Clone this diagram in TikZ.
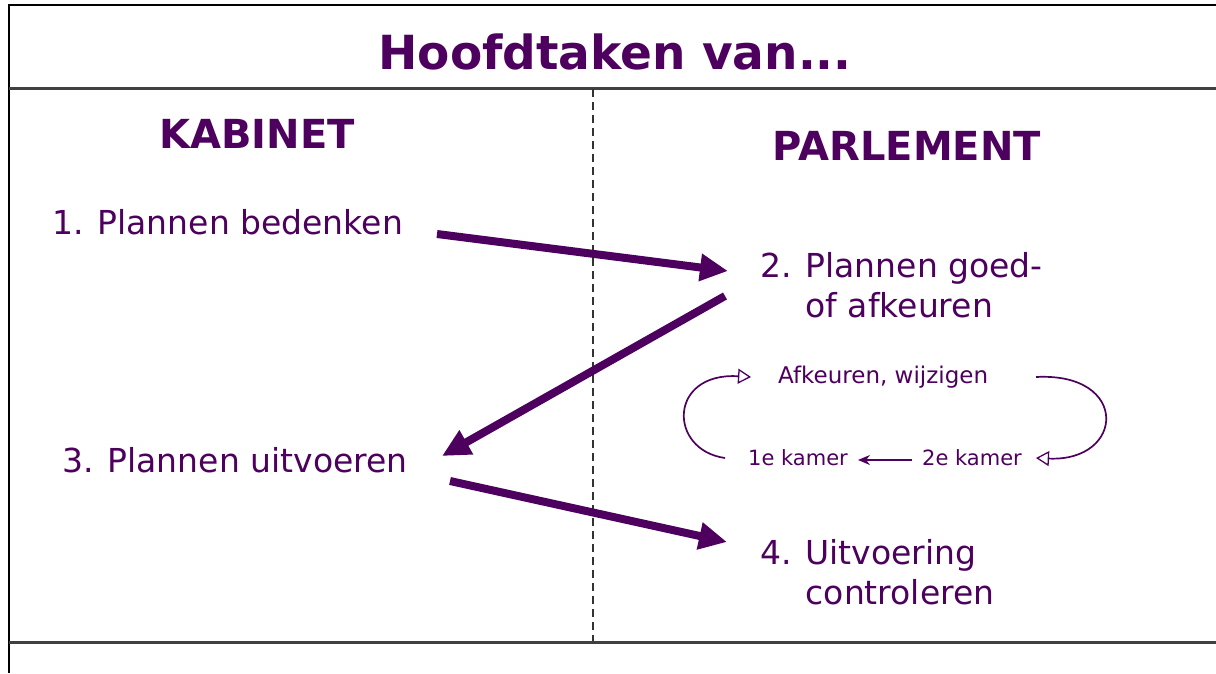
\documentclass[tikz,border=0pt]{standalone}
\usepackage{fontspec}
\setmainfont{DejaVu Sans}
\usetikzlibrary{arrows.meta}
\definecolor{paars}{RGB}{78,0,94}
\tikzset{
  big/.style={font=\fontsize{33}{40}\selectfont, text=paars, anchor=west, inner sep=0pt, align=left},
  head/.style={font=\bfseries\fontsize{40}{48}\selectfont, text=paars, inner sep=0pt},
  small/.style={font=\fontsize{23}{28}\selectfont, text=paars, anchor=west, inner sep=0pt},
  tiny/.style={font=\fontsize{21}{26}\selectfont, text=paars, anchor=west, inner sep=0pt},
  bigarrow/.style={draw=paars, line width=8pt, -{Triangle[length=28pt,width=26pt]}},
  openarrow/.style={draw=paars, line width=1.7pt, -{Triangle[open,length=13pt,width=15pt,line width=1.3pt]}},
  smallarrow/.style={draw=paars, line width=1.5pt, -{Stealth[length=12pt,width=10pt]}},
  frame/.style={draw=black, line width=2pt},
  sep/.style={draw=black!75, line width=3pt},
}
\begin{document}
\begin{tikzpicture}[x=1pt,y=-1pt]
\useasboundingbox (0,0) rectangle (1216,673);
\fill[white] (0,0) rectangle (1216,673);
% frame
\coordinate (tl) at (9,5);
\coordinate (tr) at (1216,5);
\coordinate (bl) at (9,673);
\draw[frame] (bl) -- (tl) -- (tr);
\coordinate (s1l) at (9,88);
\coordinate (s1r) at (1216,88);
\coordinate (s2l) at (9,642);
\coordinate (s2r) at (1216,642);
\draw[sep] (s1l) -- (s1r);
\draw[sep] (s2l) -- (s2r);
\coordinate (dt) at (593,89);
\coordinate (db) at (593,641);
\draw[draw=black!80, line width=1.8pt, dash pattern=on 8pt off 5pt] (dt) -- (db);
% title and headers
\node[font=\bfseries\fontsize{47}{54}\selectfont, text=paars, inner sep=0pt] (title) at (615,52) {Hoofdtaken van...};
\node[head] (kab) at (257,134) {KABINET};
\node[head] (par) at (907,146) {PARLEMENT};
% main texts
\node[big] (t1) at (52,222) {1. Plannen bedenken};
\node[big] (t2) at (760,285) {2. Plannen goed-\\\phantom{2. }of afkeuren};
\node[big] (t3) at (62,460) {3. Plannen uitvoeren};
\node[big] (t4) at (760,572) {4. Uitvoering\\\phantom{4. }controleren};
% small texts
\node[small] (afk) at (778,377) {Afkeuren, wijzigen};
\node[tiny] (k1) at (748,458) {1e kamer};
\node[tiny] (k2) at (922,458) {2e kamer};
% big arrows
\coordinate (a1s) at (437,234);
\coordinate (a1e) at (728,271);
\draw[bigarrow] (a1s) -- (a1e);
\coordinate (a2s) at (725,296);
\coordinate (a2e) at (442,456);
\draw[bigarrow] (a2s) -- (a2e);
\coordinate (a3s) at (450,481);
\coordinate (a3e) at (727,542);
\draw[bigarrow] (a3s) -- (a3e);
% small loop arrows
\coordinate (l1s) at (725,458);
\coordinate (l1e) at (751,377);
\draw[openarrow] (l1s) .. controls (668,450) and (668,372) .. (l1e);
\coordinate (l2s) at (1036,377);
\coordinate (l2e) at (1036,458);
\draw[openarrow] (l2s) .. controls (1130,372) and (1125,462) .. (l2e);
\coordinate (m1) at (912,460);
\coordinate (m2) at (858,460);
\draw[smallarrow] (m1) -- (m2);
\end{tikzpicture}
\end{document}
